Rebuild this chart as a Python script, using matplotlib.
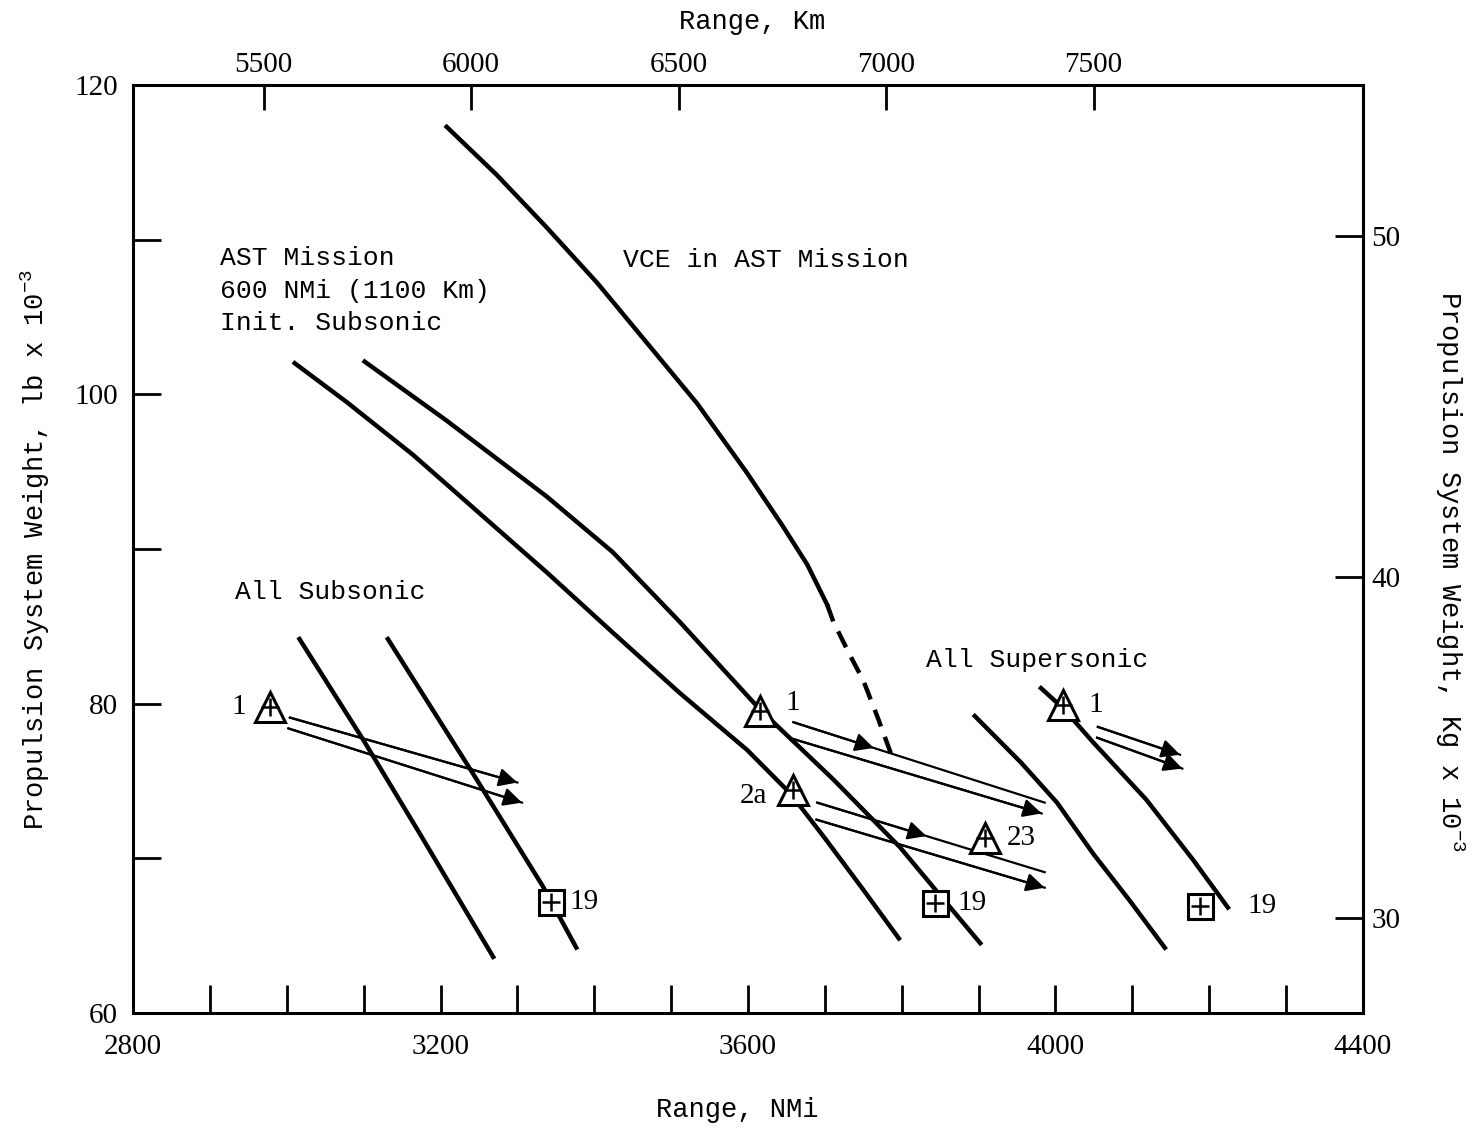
import matplotlib.pyplot as plt

plt.rcParams['font.family'] = ['Liberation Mono', 'DejaVu Sans Mono']
plt.rcParams['mathtext.default'] = 'regular'

# Rango en NMi, peso en lb x 10^-3
vce_x = [3208, 3273, 3338, 3404, 3469, 3534, 3599, 3645, 3677, 3703]
vce_y = [117.3, 114.2, 110.8, 107.2, 103.3, 99.4, 94.9, 91.5, 89.0, 86.4]
vce_dash_x = [3703, 3711, 3733, 3750, 3768, 3785, 3787]
vce_dash_y = [86.4, 85.3, 83.1, 81.5, 79.2, 76.9, 76.1]

ast_a_x = [3008, 3078, 3164, 3251, 3338, 3424, 3511, 3599, 3655, 3700, 3748, 3798]
ast_a_y = [102.1, 99.5, 96.1, 92.3, 88.5, 84.6, 80.7, 77.0, 74.2, 71.3, 68.1, 64.7]
ast_b_x = [3099, 3208, 3338, 3424, 3511, 3616, 3711, 3798, 3850, 3904]
ast_b_y = [102.2, 98.3, 93.4, 89.8, 85.3, 79.6, 75.1, 70.7, 67.6, 64.4]

sub_a_x = [3015, 3099, 3173, 3270]
sub_a_y = [84.3, 77.7, 71.6, 63.5]
sub_b_x = [3130, 3242, 3333, 3378]
sub_b_y = [84.3, 75.5, 68.2, 64.1]

sup_a_x = [3893, 3955, 4002, 4049, 4096, 4144]
sup_a_y = [79.3, 76.2, 73.6, 70.3, 67.3, 64.1]
sup_b_x = [3979, 4010, 4049, 4118, 4179, 4226]
sup_b_y = [81.1, 79.7, 77.5, 73.8, 69.9, 66.7]

tri_x = [2978, 3616, 3658, 3908, 4010]
tri_y = [79.8, 79.5, 74.4, 71.3, 79.9]
tri_labels = ['1', '1', '2a', '23', '1']

sq_x = [3344, 3843, 4188]
sq_y = [67.2, 67.1, 66.9]
sq_labels = ['19', '19', '19']

# flechas: inicio, fin y donde va la punta (fraccion del trazo)
arr_x0 = [3004, 3002, 3659, 3653, 3690, 3689, 4055, 4054]
arr_y0 = [79.1, 78.4, 78.8, 77.8, 73.6, 72.5, 78.5, 77.8]
arr_x1 = [3300, 3306, 3986, 3982, 3986, 3986, 4162, 4165]
arr_y1 = [74.9, 73.6, 73.6, 72.9, 69.1, 68.1, 76.7, 75.8]
arr_head = [1, 1, 0.32, 1, 0.48, 1, 1, 1]

km_ticks = [5500, 6000, 6500, 7000, 7500]
kg_ticks = [30, 40, 50]

fig = plt.figure(figsize=(14.73, 11.28), dpi=100)
ax = fig.add_axes([0.0903, 0.102, 0.835, 0.8226])

lw = 3.2
ax.plot(vce_x, vce_y, color='k', lw=lw, solid_joinstyle='round')
ax.plot(vce_dash_x, vce_dash_y, color='k', lw=lw, ls=(0, (4, 2.5)))
for xs, ys in [(ast_a_x, ast_a_y), (ast_b_x, ast_b_y), (sub_a_x, sub_a_y),
               (sub_b_x, sub_b_y), (sup_a_x, sup_a_y), (sup_b_x, sup_b_y)]:
    ax.plot(xs, ys, color='k', lw=lw, solid_capstyle='butt', solid_joinstyle='round')

for x0, y0, x1, y1, h in zip(arr_x0, arr_y0, arr_x1, arr_y1, arr_head):
    ax.plot([x0, x1], [y0, y1], color='k', lw=1.6)
    hx = x0 + (x1 - x0) * h
    hy = y0 + (y1 - y0) * h
    ax.annotate('', xy=(hx, hy), xytext=(x0, y0),
                arrowprops=dict(arrowstyle='-|>', color='k', lw=1.6,
                                mutation_scale=28, shrinkA=0, shrinkB=0))

ax.plot(tri_x, tri_y, ls='none', marker='^', ms=21, mfc='white',
        mec='k', mew=2.2, zorder=5)
ax.plot(tri_x, tri_y, ls='none', marker='+', ms=13, mec='k', mew=1.8, zorder=6)
ax.plot(sq_x, sq_y, ls='none', marker='s', ms=18, mfc='white',
        mec='k', mew=2.2, zorder=5)
ax.plot(sq_x, sq_y, ls='none', marker='+', ms=13, mec='k', mew=1.8, zorder=6)

lab_font = dict(family=['Liberation Serif'], fontsize=21)
tri_off = [(-17, 0), (18, 6), (-18, -4), (16, 0), (18, 0)]
for x, y, t, off in zip(tri_x, tri_y, tri_labels, tri_off):
    ax.annotate(t, (x, y), xytext=off, textcoords='offset points',
                ha='right' if off[0] < 0 else 'left', va='center', **lab_font)
sq_off = [(13, 0), (16, 0), (34, 0)]
for x, y, t, off in zip(sq_x, sq_y, sq_labels, sq_off):
    ax.annotate(t, (x, y), xytext=off, textcoords='offset points',
                ha='left', va='center', **lab_font)

txt = dict(fontsize=19, va='center', ha='left')
ax.text(2913, 108.8, 'AST Mission', **txt)
ax.text(2913, 106.7, '600 NMi (1100 Km)', **txt)
ax.text(2913, 104.6, 'Init. Subsonic', **txt)
ax.text(3437, 108.7, 'VCE in AST Mission', **txt)
ax.text(2933, 87.2, 'All Subsonic', **txt)
ax.text(3832, 82.8, 'All Supersonic', **txt)

ax.set_xlim(2800, 4400)
ax.set_ylim(60, 120)
ax.set_xticks([2800, 3200, 3600, 4000, 4400])
ax.set_xticks(range(2900, 4400, 100), minor=True)
ax.set_yticks([60, 80, 100, 120])
ax.set_yticks([70, 90, 110], minor=True)
ax.tick_params(which='both', direction='in', length=20, width=2,
               top=False, right=False)
ax.tick_params(axis='x', which='major', pad=15)
ax.tick_params(axis='y', which='major', pad=11)
for lbl in ax.get_xticklabels() + ax.get_yticklabels():
    lbl.set_family('Liberation Serif')
    lbl.set_fontsize(21)
for s in ax.spines.values():
    s.set_linewidth(2.2)

top = ax.secondary_xaxis('top', functions=(lambda n: n * 1.852, lambda k: k / 1.852))
top.set_xticks(km_ticks)
top.tick_params(direction='in', length=18, width=2, pad=5)
for lbl in top.get_xticklabels():
    lbl.set_family('Liberation Serif')
    lbl.set_fontsize(21)

right = ax.secondary_yaxis('right', functions=(lambda lb: lb * 0.4536, lambda kg: kg / 0.4536))
right.set_yticks(kg_ticks)
right.tick_params(direction='in', length=20, width=2, pad=6)
for lbl in right.get_yticklabels():
    lbl.set_family('Liberation Serif')
    lbl.set_fontsize(21)

lbl_kw = dict(transform=ax.transAxes, fontsize=19.5, ha='center', va='center')
ax.text(0.491, -0.1045, 'Range, NMi', **lbl_kw)
ax.text(0.503, 1.068, 'Range, Km', **lbl_kw)
ax.text(-0.0797, 0.5, 'Propulsion System Weight, lb x 10$^{-3}$', rotation=90, **lbl_kw)
ax.text(1.0707, 0.476, 'Propulsion System Weight, Kg x 10$^{-3}$', rotation=270, **lbl_kw)

fig.savefig('out.png', dpi=100)
